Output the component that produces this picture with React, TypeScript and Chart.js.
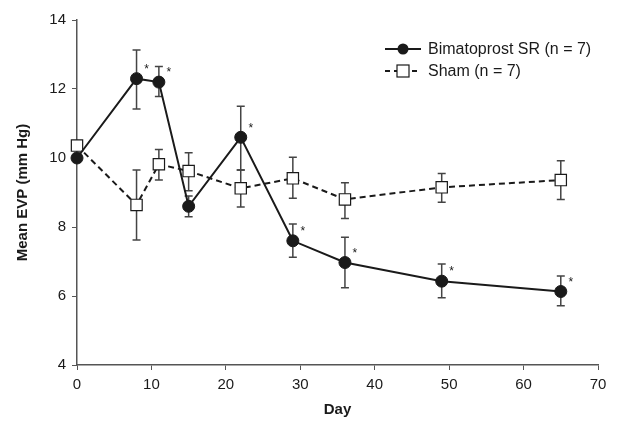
import React, { useEffect, useRef } from "react";
import { Chart, registerables } from "chart.js";

Chart.register(...registerables);

const days = [0, 8, 11, 15, 22, 29, 36, 49, 65];
const bimaMean = [10.0, 12.3, 12.2, 8.6, 10.6, 7.6, 6.97, 6.43, 6.13];
const bimaHigh = [null, 13.13, 12.65, 8.9, 11.5, 8.09, 7.7, 6.93, 6.58];
const bimaLow = [null, 11.42, 11.78, 8.3, 9.65, 7.12, 6.24, 5.95, 5.72];
const bimaSignificant = [false, true, true, false, true, true, true, true, true];
const shamMean = [10.36, 8.64, 9.82, 9.62, 9.12, 9.41, 8.8, 9.15, 9.36];
const shamHigh = [null, 9.65, 10.25, 10.15, 9.65, 10.02, 9.28, 9.55, 9.92];
const shamLow = [null, 7.62, 9.36, 9.05, 8.58, 8.83, 8.25, 8.72, 8.8];
const seriesLabels = ["Bimatoprost SR (n = 7)", "Sham (n = 7)"];
const xTitle = "Day";
const yTitle = "Mean EVP (mm Hg)";

const FONT = "'Liberation Sans', Arial, sans-serif";
const INK = "#1a1a1a";
const AXIS = "#555";

const errorBarPlugin = {
  id: "errorBars",
  beforeDatasetsDraw(chart: any) {
    const { ctx, scales } = chart;
    const xs = scales.x;
    const ys = scales.y;
    const sets = [
      { hi: bimaHigh, lo: bimaLow },
      { hi: shamHigh, lo: shamLow },
    ];
    ctx.save();
    ctx.strokeStyle = "#444";
    ctx.lineWidth = 1.5;
    sets.forEach((s) => {
      days.forEach((d, i) => {
        const h = s.hi[i];
        const l = s.lo[i];
        if (h == null || l == null) return;
        const px = xs.getPixelForValue(d);
        const ph = ys.getPixelForValue(h);
        const pl = ys.getPixelForValue(l);
        ctx.beginPath();
        ctx.moveTo(px, ph);
        ctx.lineTo(px, pl);
        ctx.moveTo(px - 4, ph);
        ctx.lineTo(px + 4, ph);
        ctx.moveTo(px - 4, pl);
        ctx.lineTo(px + 4, pl);
        ctx.stroke();
      });
    });
    ctx.restore();
  },
  afterDatasetsDraw(chart: any) {
    const { ctx, scales } = chart;
    const xs = scales.x;
    const ys = scales.y;
    ctx.save();
    ctx.fillStyle = INK;
    ctx.font = `12px ${FONT}`;
    ctx.textAlign = "center";
    ctx.textBaseline = "middle";
    days.forEach((d, i) => {
      if (!bimaSignificant[i]) return;
      const px = xs.getPixelForValue(d);
      const py = ys.getPixelForValue(bimaMean[i]);
      ctx.fillText("*", px + 10, py - 9);
    });
    // legend
    const lx = 385;
    const ly = [49, 71];
    ctx.font = `16px ${FONT}`;
    ctx.textAlign = "left";
    ctx.fillStyle = INK;
    ctx.strokeStyle = INK;
    ctx.lineWidth = 2;
    ctx.beginPath();
    ctx.moveTo(lx, ly[0]);
    ctx.lineTo(lx + 36, ly[0]);
    ctx.stroke();
    ctx.beginPath();
    ctx.arc(lx + 18, ly[0], 5.5, 0, Math.PI * 2);
    ctx.fill();
    ctx.fillText(seriesLabels[0], lx + 43, ly[0] + 1);
    ctx.setLineDash([5, 4]);
    ctx.beginPath();
    ctx.moveTo(lx, ly[1]);
    ctx.lineTo(lx + 36, ly[1]);
    ctx.stroke();
    ctx.setLineDash([]);
    ctx.fillStyle = "#fff";
    ctx.lineWidth = 1.2;
    ctx.fillRect(lx + 12, ly[1] - 6, 12, 12);
    ctx.strokeRect(lx + 12, ly[1] - 6, 12, 12);
    ctx.fillStyle = INK;
    ctx.fillText(seriesLabels[1], lx + 43, ly[1] + 1);
    ctx.restore();
  },
};

export default function App() {
  const ref = useRef<HTMLCanvasElement>(null);
  useEffect(() => {
    if (!ref.current) return;
    const chart = new Chart(ref.current, {
      type: "line",
      data: {
        datasets: [
          {
            label: seriesLabels[0],
            data: days.map((d, i) => ({ x: d, y: bimaMean[i] })),
            borderColor: INK,
            borderWidth: 2,
            backgroundColor: INK,
            pointStyle: "circle",
            pointRadius: 6,
            pointBorderWidth: 1,
            pointBackgroundColor: INK,
            pointBorderColor: INK,
            tension: 0,
            clip: false,
            order: 1,
          },
          {
            label: seriesLabels[1],
            data: days.map((d, i) => ({ x: d, y: shamMean[i] })),
            borderColor: INK,
            borderWidth: 2,
            borderDash: [6, 4],
            backgroundColor: "#fff",
            pointStyle: "rect",
            pointRadius: 8,
            pointBorderWidth: 1.2,
            pointBackgroundColor: "#fff",
            pointBorderColor: INK,
            tension: 0,
            clip: false,
            order: 2,
          },
        ],
      },
      options: {
        animation: false,
        responsive: true,
        maintainAspectRatio: false,
        layout: { padding: { top: 20, right: 20, left: 0, bottom: 0 } },
        plugins: {
          legend: { display: false },
          tooltip: { enabled: false },
        },
        scales: {
          x: {
            type: "linear",
            min: 0,
            max: 70,
            ticks: { stepSize: 10, color: INK, font: { family: FONT, size: 15 }, padding: 6 },
            grid: { drawOnChartArea: false, drawTicks: true, tickLength: 5, color: AXIS },
            border: { color: AXIS, width: 1.5 },
            title: { display: true, text: xTitle, color: INK, font: { family: FONT, size: 15, weight: "bold" }, padding: { top: 4 } },
            afterFit: (s: any) => { s.height = 58; },
          },
          y: {
            min: 4,
            max: 14,
            ticks: { stepSize: 2, color: INK, font: { family: FONT, size: 15 }, padding: 6 },
            grid: { drawOnChartArea: false, drawTicks: true, tickLength: 5, color: AXIS },
            border: { color: AXIS, width: 1.5 },
            title: { display: true, text: yTitle, color: INK, font: { family: FONT, size: 15, weight: "bold" }, padding: { top: 14, bottom: 4 } },
            afterFit: (s: any) => { s.width = 77; },
          },
        },
      },
      plugins: [errorBarPlugin],
    } as any);
    return () => chart.destroy();
  }, []);
  return (
    <div style={{ position: "fixed", left: 0, top: 0, width: 618, height: 423, background: "#fff" }}>
      <canvas ref={ref} />
    </div>
  );
}
